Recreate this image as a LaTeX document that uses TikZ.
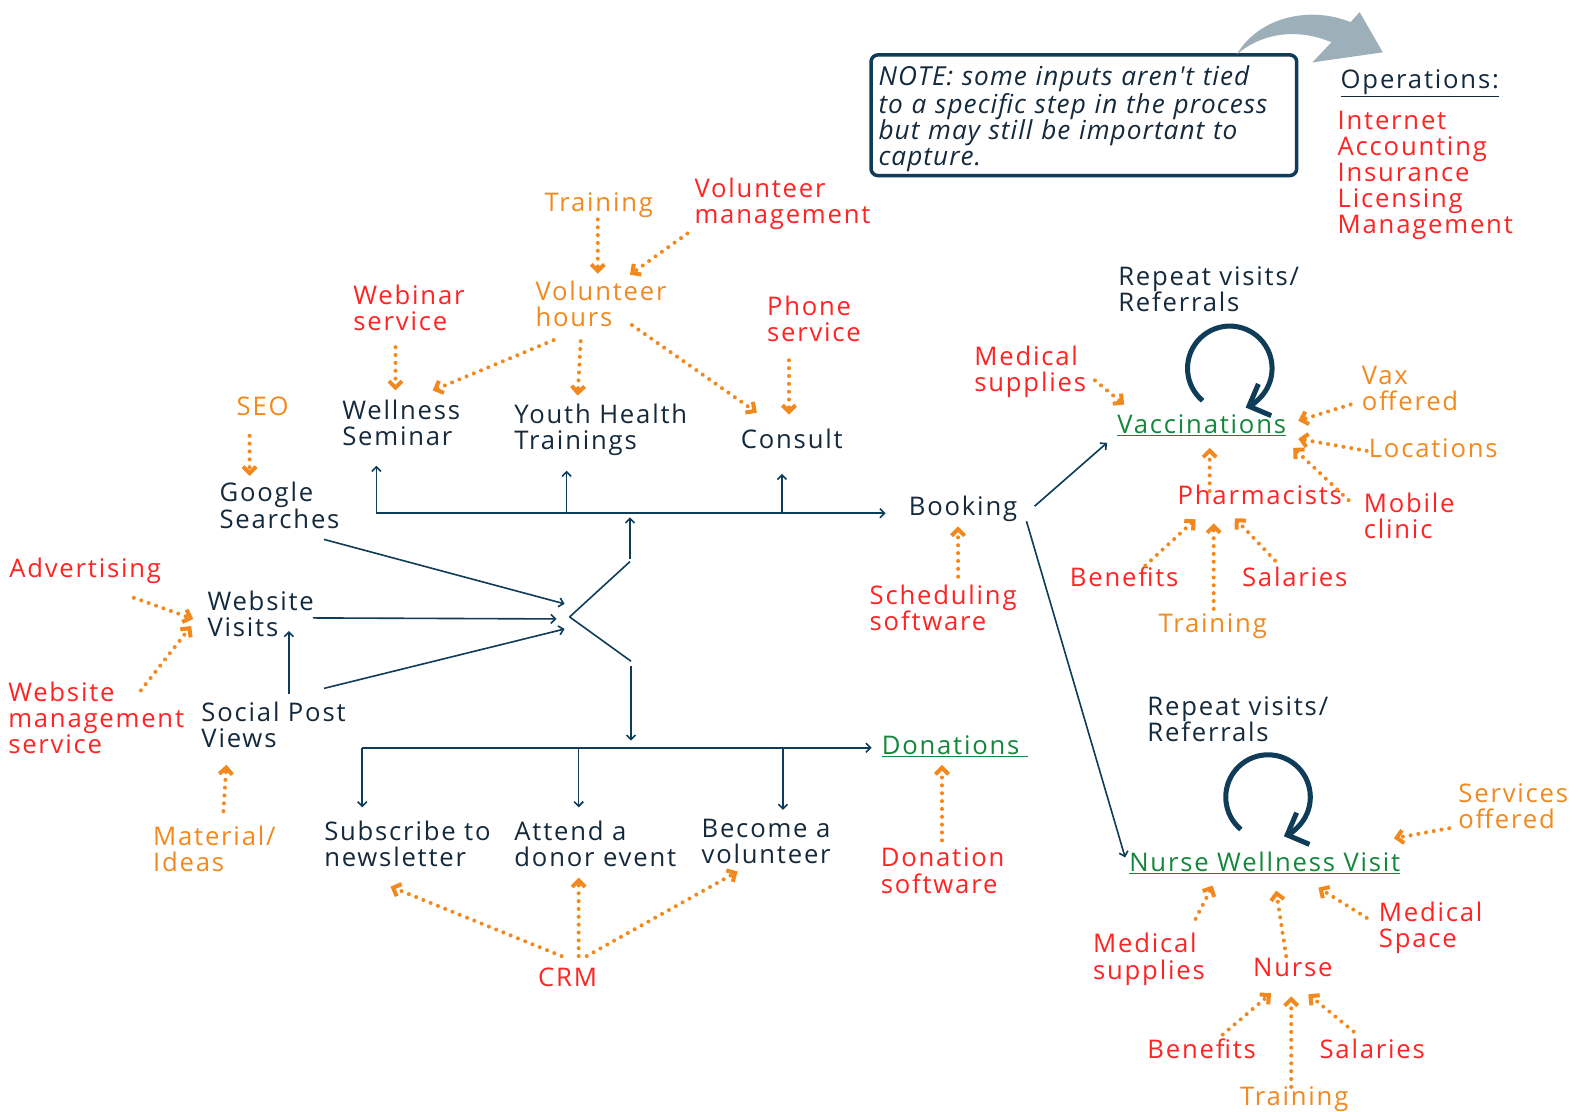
\documentclass[tikz,border=0pt]{standalone}
\usepackage{fontspec}
\setmainfont{Open Sans}[LetterSpace=7]
\newfontfamily\notefont{Open Sans}[LetterSpace=4]
\usetikzlibrary{arrows.meta, calc}

\definecolor{navytxt}{HTML}{142A3C}
\definecolor{navyln}{HTML}{0F3C58}
\definecolor{costred}{HTML}{FF2424}
\definecolor{inorange}{HTML}{F2891E}
\definecolor{outgreen}{HTML}{13873B}
\definecolor{swoosh}{HTML}{9DB0BA}

\tikzset{
  txt/.style={inner sep=0pt, anchor=west, align=left,
    execute at begin node=\strut, execute at end node=\strut},
  act/.style={txt, text=navytxt},
  cost/.style={txt, text=costred},
  inpt/.style={txt, text=inorange},
  outc/.style={txt, text=outgreen},
  flowln/.style={draw=navyln, line width=1.6pt},
  flow/.style={flowln, -{Straight Barb[length=4.5pt,width=9pt]}},
  feed/.style={draw=inorange, line width=4pt, line cap=round,
    dash pattern=on 0pt off 7.8pt, -{Straight Barb[length=6.5pt,width=13pt]}},
  loopback/.style={draw=navyln, line width=5pt, -{Straight Barb[length=17pt,width=34pt]}},
  notebox/.style={draw=navyln, line width=3.5pt, rounded corners=7pt,
    minimum width=423pt, minimum height=120pt, text width=408pt,
    inner xsep=7pt, align=left, text=navytxt,
    execute at begin node={\rule{0pt}{27pt}},
    font=\notefont\itshape\fontsize{26}{26}\selectfont}
}

\begin{document}
\begin{tikzpicture}[x=1pt, y=-1pt, font=\fontsize{25.5}{26}\selectfont]
  \fill[white] (0,0) rectangle (1568,1104);
  \useasboundingbox (0,0) rectangle (1568,1104);

  % note and operations
  \node[notebox] (note) at (1077,114.5) {NOTE: some inputs aren't tied\\to a specific step in the process\\but may still be important to\\capture.};
  \fill[swoosh] (1229,54) .. controls (1250,18) and (1300,5) .. (1342,22) -- (1351,12)
    -- (1374,52) -- (1304,62) -- (1323,42) .. controls (1290,28) and (1255,32) .. (1229,54) -- cycle;
  \node[act] (ops) at (1332,83) {\underline{Operations:}};
  \node[cost] (opslist) at (1329,175) {Internet\\Accounting\\Insurance\\Licensing\\Management};

  % activities
  \node[act] (wellness) at (340,424) {Wellness\\Seminar};
  \node[act] (youth) at (511,428) {Youth Health\\Trainings};
  \node[act] (consult) at (736,440) {Consult};
  \node[act] (google) at (218,506) {Google\\Searches};
  \node[act] (booking) at (903,506) {Booking};
  \node[act] (website) at (206,614) {Website\\Visits};
  \node[act] (social) at (200,724) {Social Post\\Views};
  \node[act] (subscribe) at (322,842) {Subscribe to\\newsletter};
  \node[act] (attend) at (511,842) {Attend a\\donor event};
  \node[act] (become) at (697,840) {Become a\\volunteer};
  \node[outc] (donations) at (876,744) {\underline{Donations\ }};

  % inputs, left
  \node[inpt] (train1) at (541,205) {Training};
  \node[cost] (volmgmt) at (690,203) {Volunteer\\management};
  \node[inpt] (volhours) at (532,305.5) {Volunteer\\hours};
  \node[cost] (webinar) at (351,310) {Webinar\\service};
  \node[cost] (phone) at (762,321) {Phone\\service};
  \node[inpt] (seo) at (235,408) {SEO};
  \node[cost] (sched) at (864,608) {Scheduling\\software};
  \node[cost] (advert) at (9,568) {Advertising};
  \node[cost] (webmgmt) at (8,717) {Website\\management\\service};
  \node[inpt] (material) at (152,847) {Material/\\Ideas};
  \node[cost] (donsw) at (875,869) {Donation\\software};
  \node[cost, anchor=center] (crm) at (564,975) {CRM};

  % outcomes, right
  \node[act] (repeat1) at (1111,291) {Repeat visits/\\Referrals};
  \node[outc] (vacc) at (1110,425) {\underline{Vaccinations}};
  \node[cost] (medsup1) at (968,370) {Medical\\supplies};
  \node[inpt] (vax) at (1353,390) {Vax\\offered};
  \node[inpt] (locations) at (1360,449) {Locations};
  \node[cost] (mobile) at (1355,516) {Mobile\\clinic};
  \node[cost] (pharm) at (1170,496) {Pharmacists};
  \node[cost] (benefit1) at (1063,577) {Benefits};
  \node[cost] (salary1) at (1234,577) {Salaries};
  \node[inpt] (train2) at (1151,623) {Training};
  \node[act] (repeat2) at (1140,718) {Repeat visits/\\Referrals};
  \node[outc] (nwv) at (1122,860) {\underline{Nurse Wellness Visit}};
  \node[inpt] (services) at (1449,805) {Services\\offered};
  \node[cost] (medsup2) at (1086,954) {Medical\\supplies};
  \node[cost] (nurse) at (1245,965) {Nurse};
  \node[cost] (medspace) at (1370,923) {Medical\\Space};
  \node[cost] (benefit2) at (1140,1046) {Benefits};
  \node[cost] (salary2) at (1311,1046) {Salaries};
  \node[inpt] (train3) at (1232,1093) {Training};

  % flow lines
  \coordinate (hub) at (566,613);
  \coordinate (upturn) at (626,558);
  \coordinate (downturn) at (627,657);
  \coordinate (tapW) at (374,510);
  \coordinate (tapY) at (563,510);
  \coordinate (tapC) at (777,510);
  \coordinate (tapS) at (360,743);
  \coordinate (tapA) at (575,743);
  \coordinate (tapB) at (778,743);

  \draw[flow, shorten >=23pt] (tapW) -- (tapW -| booking.west);
  \draw[flow, shorten >=12pt] (tapW) -- (tapW |- wellness.south);
  \draw[flow, shorten >=13pt] (tapY) -- (tapY |- youth.south);
  \draw[flow, shorten >=17pt] (tapC) -- (tapC |- consult.south);
  \draw[flowln] (hub) -- (upturn);
  \draw[flow, shorten <=3pt, shorten >=4pt] (upturn) -- (upturn |- tapW);
  \draw[flowln] (hub) -- (downturn);
  \draw[flow, shorten <=5pt, shorten >=7pt] (downturn) -- (downturn |- tapS);
  \draw[flow, shorten >=10pt] (tapS) -- (tapS -| donations.west);
  \draw[flow, shorten >=13pt] (tapS) -- (tapS |- subscribe.north);
  \draw[flow, shorten >=13pt] (tapA) -- (tapA |- attend.north);
  \draw[flow, shorten >=9pt] (tapB) -- (tapB |- become.north);

  \draw[flow] ([shift={(104,30)}]google.west) -- ([shift={(-5,-13)}]hub);
  \draw[flow] ([shift={(105,0)}]website.west) -- ([shift={(-13,2)}]hub);
  \draw[flow] ([shift={(122,-40)}]social.west) -- ([shift={(-5,12)}]hub);
  \draw[flow] ([shift={(87,-34)}]social.west) -- ([shift={(81,13)}]website.west);
  \draw[flow] ([shift={(125,-3)}]booking.west) -- ([shift={(-10,15)}]vacc.west);
  \draw[flow] ([shift={(117,12)}]booking.west) -- ([shift={(-4,-8)}]nwv.west);

  % repeat loops
  \draw[loopback] ([shift={(112,-59)}]vacc.west) ++(130:42) arc[start angle=130, end angle=428, radius=42];
  \draw[loopback] ([shift={(138,-68)}]nwv.west) ++(130:42) arc[start angle=130, end angle=428, radius=42];

  % inputs feeding steps
  \draw[feed] ([shift={(53,13)}]train1.west) -- ([shift={(62,-33.5)}]volhours.west);
  \draw[feed] ([shift={(-7,29)}]volmgmt.west) -- ([shift={(94,-32.5)}]volhours.west);
  \draw[feed] ([shift={(18,32.5)}]volhours.west) -- ([shift={(90,-36)}]wellness.west);
  \draw[feed] ([shift={(45,33.5)}]volhours.west) -- ([shift={(63,-35)}]youth.west);
  \draw[feed] ([shift={(96,17.5)}]volhours.west) -- ([shift={(16,-30)}]consult.west);
  \draw[feed] ([shift={(42,35)}]webinar.west) -- ([shift={(53,-36)}]wellness.west);
  \draw[feed] ([shift={(22,37)}]phone.west) -- ([shift={(48,-28)}]consult.west);
  \draw[feed] ([shift={(13,25)}]seo.west) -- ([shift={(30,-33)}]google.west);
  \draw[feed] ([shift={(88,-35)}]sched.west) -- ([shift={(49,17)}]booking.west);
  \draw[feed] ([shift={(124,26)}]advert.west) -- ([shift={(-14,1)}]website.west);
  \draw[feed] ([shift={(132,-31)}]webmgmt.west) -- ([shift={(-16,8)}]website.west);
  \draw[feed] ([shift={(70,-41)}]material.west) -- ([shift={(25,36)}]social.west);
  \draw[feed] ([shift={(61,-34)}]donsw.west) -- ([shift={(60,16)}]donations.west);
  \draw[feed] ([shift={(-6,-25)}]crm.center) -- ([shift={(66,39)}]subscribe.west);
  \draw[feed] ([shift={(11,-25)}]crm.center) -- ([shift={(64,30)}]attend.west);
  \draw[feed] ([shift={(19,-25)}]crm.center) -- ([shift={(36,26)}]become.west);

  \draw[feed] ([shift={(120,8)}]medsup1.west) -- ([shift={(7,-23)}]vacc.west);
  \draw[feed] ([shift={(-11,12)}]vax.west) -- ([shift={(180,-7)}]vacc.west);
  \draw[feed] ([shift={(-2,-1)}]locations.west) -- ([shift={(180,11)}]vacc.west);
  \draw[feed] ([shift={(-15,-19)}]mobile.west) -- ([shift={(175,20)}]vacc.west);
  \draw[feed] ([shift={(32,-8)}]pharm.west) -- ([shift={(92,20)}]vacc.west);
  \draw[feed] ([shift={(75,-15)}]benefit1.west) -- ([shift={(18,20)}]pharm.west);
  \draw[feed] ([shift={(33,-20)}]salary1.west) -- ([shift={(57,19)}]pharm.west);
  \draw[feed] ([shift={(55,-18)}]train2.west) -- ([shift={(36,24)}]pharm.west);

  \draw[feed] ([shift={(-9,18)}]services.west) -- ([shift={(263,-27)}]nwv.west);
  \draw[feed] ([shift={(102,-41)}]medsup2.west) -- ([shift={(83,20)}]nwv.west);
  \draw[feed] ([shift={(33,-15)}]nurse.west) -- ([shift={(146,25)}]nwv.west);
  \draw[feed] ([shift={(-12,-11)}]medspace.west) -- ([shift={(188,22)}]nwv.west);
  \draw[feed] ([shift={(75,-18)}]benefit2.west) -- ([shift={(18,22)}]nurse.west);
  \draw[feed] ([shift={(34,-21)}]salary2.west) -- ([shift={(55,23)}]nurse.west);
  \draw[feed] ([shift={(51,-13)}]train3.west) -- ([shift={(38,25)}]nurse.west);
\end{tikzpicture}
\end{document}
